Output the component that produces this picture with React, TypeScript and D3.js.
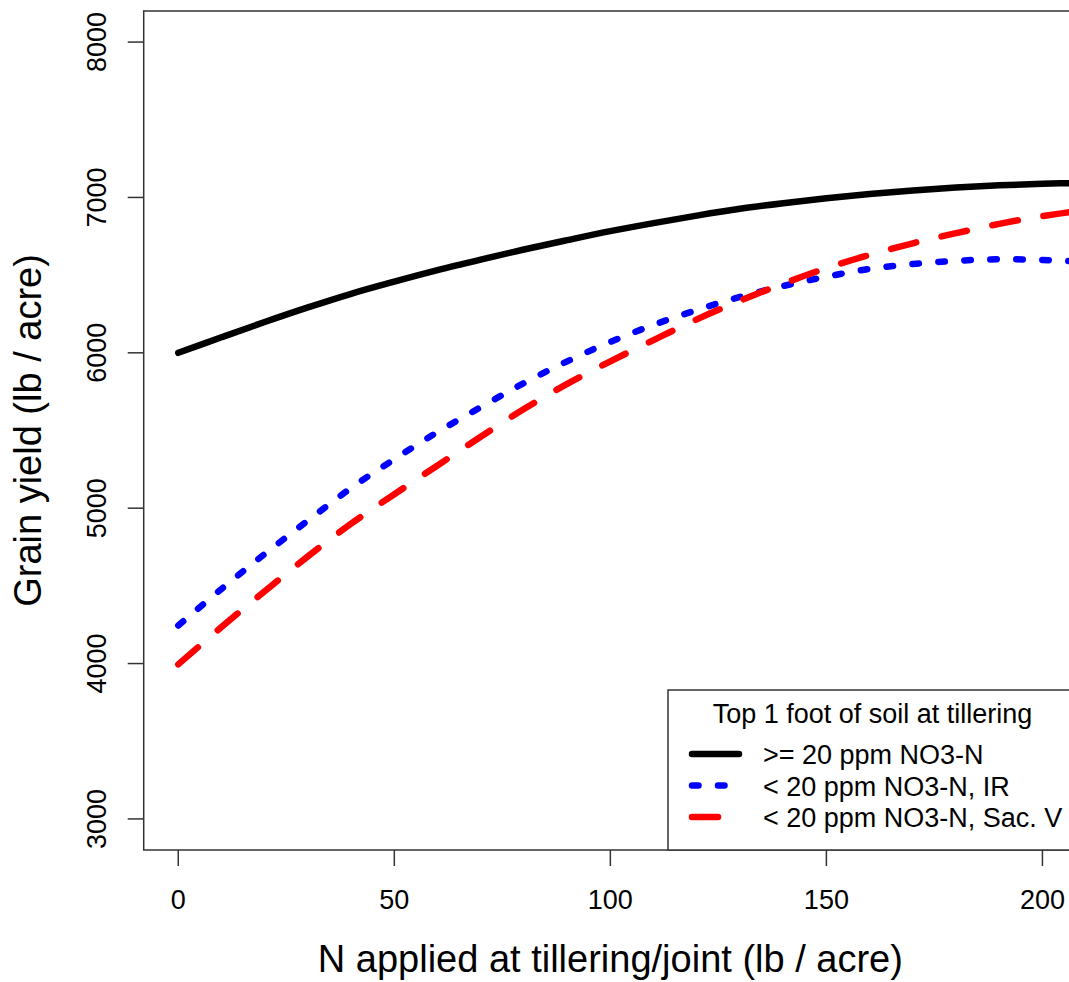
import React from "react";
import * as d3 from "d3";

const nApplied = [0, 10, 20, 30, 40, 50, 60, 70, 80, 90, 100, 110, 120, 130, 140, 150, 160, 170, 180, 190, 200, 210];
const yieldHigh = [6000, 6100, 6198, 6292, 6380, 6458, 6532, 6600, 6665, 6725, 6783, 6835, 6883, 6927, 6963, 6995, 7022, 7045, 7064, 7078, 7088, 7094];
const yieldIR = [4245, 4480, 4705, 4920, 5130, 5315, 5490, 5650, 5805, 5945, 6070, 6180, 6275, 6360, 6430, 6490, 6540, 6572, 6592, 6602, 6598, 6585];
const yieldSacV = [3995, 4235, 4465, 4690, 4900, 5090, 5275, 5460, 5638, 5800, 5945, 6082, 6215, 6335, 6445, 6545, 6630, 6705, 6770, 6830, 6880, 6920];

const xTicks = [0, 50, 100, 150, 200];
const yTicks = [3000, 4000, 5000, 6000, 7000, 8000];

const legendTitle = "Top 1 foot of soil at tillering";
const seriesNames = [">= 20 ppm NO3-N", "< 20 ppm NO3-N, IR", "< 20 ppm NO3-N, Sac. V"];
const seriesColors = ["#000000", "#0000FF", "#FF0000"];
const seriesDash = ["none", "6.5 19.5", "26 26"];

const xTitle = "N applied at tillering/joint (lb / acre)";
const yTitle = "Grain yield (lb / acre)";

export default function App() {
  const W = 1069, H = 982;
  const left = 143.7, right = 1077, top = 11, bottom = 850;
  const x = d3.scaleLinear().domain([-8, 208]).range([left, right]);
  const y = d3.scaleLinear().domain([2800, 8200]).range([bottom, top]);
  const font = "'Liberation Sans', Arial, sans-serif";
  const series = [yieldHigh, yieldIR, yieldSacV];
  const line = d3
    .line<number>()
    .x((_, i) => x(nApplied[i]))
    .y((d) => y(d))
    .curve(d3.curveCatmullRom);
  const lw = 6.5;
  const frame = "#333";

  const legX = 668, legY = 690, legW = right - 668, legH = bottom - 690;
  const legCx = legX + legW / 2;

  return (
    <svg width={W} height={H} style={{ position: "absolute", left: 0, top: 0, background: "#fff" }} fontFamily={font}>
      <defs>
        <clipPath id="plotclip">
          <rect x={left} y={top} width={right - left} height={bottom - top} />
        </clipPath>
      </defs>
      <rect x={0} y={0} width={W} height={H} fill="#fff" />
      <g clipPath="url(#plotclip)">
        {series.map((s, i) => (
          <path
            key={i}
            d={line(s) || ""}
            fill="none"
            stroke={seriesColors[i]}
            strokeWidth={lw}
            strokeDasharray={seriesDash[i]}
            strokeLinecap="round"
            strokeLinejoin="round"
          />
        ))}
      </g>
      <rect x={left} y={top} width={right - left} height={bottom - top} fill="none" stroke={frame} strokeWidth={1.5} />
      {xTicks.map((t) => (
        <g key={t}>
          <line x1={x(t)} x2={x(t)} y1={bottom} y2={bottom + 16} stroke={frame} strokeWidth={1.5} />
          <text x={x(t)} y={909} fontSize={27} textAnchor="middle" fill="#000">
            {t}
          </text>
        </g>
      ))}
      {yTicks.map((t) => (
        <g key={t}>
          <line x1={left - 16} x2={left} y1={y(t)} y2={y(t)} stroke={frame} strokeWidth={1.5} />
          <text transform={`translate(106,${y(t)}) rotate(-90)`} fontSize={27} textAnchor="middle" fill="#000">
            {t}
          </text>
        </g>
      ))}
      <text x={(left + right) / 2} y={972} fontSize={38} textAnchor="middle" fill="#000">
        {xTitle}
      </text>
      <text transform={`translate(41,${(top + bottom) / 2}) rotate(-90)`} fontSize={38} textAnchor="middle" fill="#000">
        {yTitle}
      </text>
      <g>
        <rect x={legX} y={legY} width={legW} height={legH} fill="#fff" stroke={frame} strokeWidth={1.5} />
        <text x={legCx} y={723} fontSize={27} textAnchor="middle" fill="#000">
          {legendTitle}
        </text>
        {seriesNames.map((name, i) => {
          const ly = 754 + i * 31.5;
          return (
            <g key={name}>
              <line
                x1={692}
                x2={739}
                y1={ly}
                y2={ly}
                stroke={seriesColors[i]}
                strokeWidth={lw}
                strokeDasharray={seriesDash[i]}
                strokeLinecap="round"
              />
              <text x={763} y={ly + 10} fontSize={27} fill="#000">
                {name}
              </text>
            </g>
          );
        })}
      </g>
    </svg>
  );
}
